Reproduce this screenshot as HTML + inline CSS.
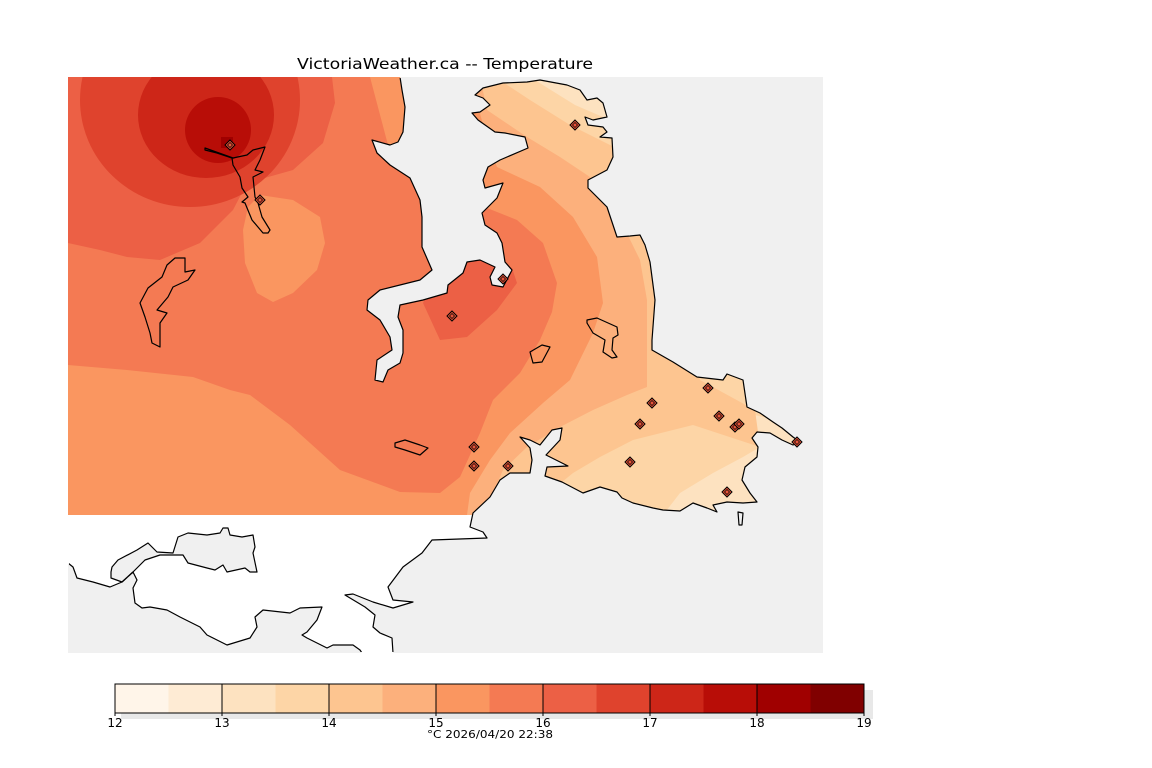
<!DOCTYPE html>
<html><head><meta charset="utf-8"><style>
html,body{margin:0;padding:0;background:#fff;}
svg{display:block;}
text{font-family:"DejaVu Sans","Liberation Sans",sans-serif;}
</style></head><body>
<svg width="1152" height="768" viewBox="0 0 1152 768" xmlns="http://www.w3.org/2000/svg">
<defs>
<clipPath id="land"><path id="lp" d="M68,77 L400,77 402,90 405,107 403,132 398,142 390,145 372,140 377,153 390,165 410,178 420,200 422,217 422,247 432,270 420,280 380,290 368,300 367,310 380,320 390,337 392,350 377,360 375,380 383,382 388,370 400,363 403,353 403,330 398,317 400,305 423,300 447,293 448,285 463,273 467,262 480,260 495,267 490,277 492,285 503,287 512,270 505,262 502,243 497,233 485,225 482,213 487,208 497,198 503,183 485,188 483,180 488,167 500,160 528,148 525,137 505,133 495,132 478,120 472,113 480,112 490,105 483,98 475,95 483,88 503,83 527,82 540,80 567,85 580,90 587,100 597,98 603,103 607,117 593,120 585,117 588,125 603,127 607,132 600,137 612,138 613,157 607,170 588,180 588,188 607,207 617,237 630,236 640,235 645,245 650,262 655,300 652,340 652,350 673,362 697,377 723,380 727,374 743,380 747,407 760,413 773,422 782,428 793,437 800,442 793,445 782,440 770,433 757,432 752,438 758,447 757,457 745,467 742,480 750,493 757,502 743,503 727,502 713,505 717,512 707,508 693,503 680,511 663,510 653,508 633,503 622,498 617,492 600,487 583,493 562,482 545,476 547,467 568,466 546,455 560,440 562,428 552,430 540,445 530,440 520,437 530,448 532,460 530,473 510,473 500,480 490,497 473,513 470,527 483,532 487,538 432,540 422,553 403,567 388,587 393,600 413,602 393,608 373,602 353,594 345,595 365,607 375,615 373,627 380,633 392,638 393,653 362,653 360,650 353,645 333,645 327,648 317,643 307,638 302,635 307,632 317,620 322,607 300,608 290,613 263,610 255,617 257,627 250,638 227,645 207,635 200,627 180,617 167,610 150,607 142,608 135,603 133,588 137,580 133,572 122,582 110,587 93,582 77,578 73,567 68,563 Z"/></clipPath>
<clipPath id="top"><rect x="68" y="77" width="755" height="438"/></clipPath>
<clipPath id="inner"><rect x="69" y="78" width="753" height="574"/></clipPath>
<g id="dm"><path d="M0,-5 L5,0 0,5 -5,0Z" fill="#e8553a" stroke="#000" stroke-width="1"/><path d="M0,-2.5 L2.5,0 0,2.5 -2.5,0Z" fill="none" stroke="#000" stroke-width="0.7"/></g>
</defs>
<text x="297" y="69" font-size="15" textLength="296" lengthAdjust="spacingAndGlyphs" fill="#000">VictoriaWeather.ca -- Temperature</text>
<rect x="68" y="77" width="755" height="576" fill="#f0f0f0"/>
<g clip-path="url(#land)">
<rect x="68" y="77" width="755" height="576" fill="#fff"/>
<g clip-path="url(#top)">
<rect x="68" y="77" width="755" height="438" fill="#fdd5a6"/>
<polygon fill="#fde2c0" points="530,77 575,105 610,120 640,110 640,77"/>
<polygon fill="#fde2c0" points="663,515 680,493 713,473 743,457 760,447 780,447 800,445 823,445 823,515"/>
<polygon fill="#fde2c0" points="755,415 775,420 800,440 790,447 760,447"/>
<polygon fill="#fdc590" points="68,77 495,77 530,100 570,125 610,145 640,160 660,200 680,300 700,380 755,410 760,447 693,425 633,440 600,457 573,473 540,500 525,515 68,515"/>
<polygon fill="#fcb07c" points="68,77 480,77 487,110 527,137 560,157 590,177 617,213 640,260 647,300 647,387 627,395 593,410 560,427 527,447 503,470 487,507 485,515 68,515"/>
<polygon fill="#fa9660" points="68,77 470,77 490,150 497,167 540,187 573,217 597,257 603,303 593,333 570,380 543,403 510,433 490,460 470,493 467,515 68,515"/>
<polygon fill="#f47a53" points="68,77 470,77 480,190 487,208 517,220 543,243 557,283 552,312 540,340 520,373 493,400 480,433 460,477 440,493 400,492 340,470 290,425 250,395 230,390 193,377 127,370 68,365"/>
<polygon fill="#fa9660" points="260,195 293,200 320,217 325,243 317,270 293,293 273,302 257,293 245,263 243,230 248,207"/>
<polygon fill="#fa9660" points="370,77 408,77 402,145 388,145"/>
<polygon fill="#ec6045" points="68,77 332,77 335,103 323,143 293,170 247,183 233,210 200,243 160,260 127,257 100,250 68,243"/>
<ellipse cx="190" cy="100" rx="110" ry="107" fill="#df432d"/>
<ellipse cx="206" cy="115" rx="68" ry="63" fill="#cd2618"/>
<circle cx="218" cy="130" r="33" fill="#b80d07"/>
<rect x="221" y="137" width="12" height="11" fill="#a00000"/>
<polygon fill="#ec6045" points="423,303 440,340 467,337 497,310 517,283 512,268 480,260 465,263 448,280 428,292"/>
</g>
</g>
<polygon fill="#f0f0f0" points="111,578 111,572 112,567 118,560 137,550 148,543 157,552 173,553 178,537 188,533 207,535 220,533 223,528 228,528 230,535 242,537 253,535 255,547 253,553 257,572 250,572 245,568 227,572 223,565 215,570 207,568 188,563 183,555 160,555 145,560 133,572 122,582"/>
<g clip-path="url(#inner)" fill="none" stroke="#000" stroke-width="1.2" stroke-linejoin="round">
<use href="#lp"/>
<polygon points="111,578 111,572 112,567 118,560 137,550 148,543 157,552 173,553 178,537 188,533 207,535 220,533 223,528 228,528 230,535 242,537 253,535 255,547 253,553 257,572 250,572 245,568 227,572 223,565 215,570 207,568 188,563 183,555 160,555 145,560 133,572 122,582"/>
<polygon points="205,148 233,158 247,155 253,150 265,147 260,160 255,170 263,172 253,177 255,197 258,203 262,217 270,230 268,233 263,233 252,220 245,203 242,202 248,197 242,188 240,177 233,165 232,158 217,153 205,150"/>
<polygon points="175,258 185,258 185,272 195,270 188,280 173,287 168,297 157,310 167,313 160,323 160,347 152,343 150,333 145,317 140,303 148,288 162,277 167,265"/>
<polygon points="395,443 405,440 420,445 428,448 420,455 405,450 395,447"/>
<polygon points="530,352 542,345 550,347 542,362 533,363"/>
<polygon points="587,320 597,318 617,327 618,335 613,338 612,350 617,357 612,358 603,352 605,340 593,333 587,323"/>
<polygon points="738,512 743,513 742,525 739,525"/>
</g>
<g>
<use href="#dm" x="230" y="145"/><use href="#dm" x="260" y="200"/><use href="#dm" x="575" y="125"/>
<use href="#dm" x="503" y="279"/><use href="#dm" x="452" y="316"/><use href="#dm" x="474" y="447"/>
<use href="#dm" x="474" y="466"/><use href="#dm" x="508" y="466"/><use href="#dm" x="652" y="403"/>
<use href="#dm" x="640" y="424"/><use href="#dm" x="708" y="388"/><use href="#dm" x="719" y="416"/>
<use href="#dm" x="735" y="427"/><use href="#dm" x="739" y="424"/><use href="#dm" x="727" y="492"/>
<use href="#dm" x="797" y="442"/><use href="#dm" x="630" y="462"/>
</g>
<rect x="121" y="690" width="752" height="29" fill="#e8e8e8"/>
<g>
<rect x="115" y="684" width="53.5" height="29" fill="#fff5e9"/>
<rect x="168.5" y="684" width="53.5" height="29" fill="#feebd4"/>
<rect x="222" y="684" width="53.5" height="29" fill="#fde2c0"/>
<rect x="275.5" y="684" width="53.5" height="29" fill="#fdd5a6"/>
<rect x="329" y="684" width="53.5" height="29" fill="#fdc590"/>
<rect x="382.5" y="684" width="53.5" height="29" fill="#fcb07c"/>
<rect x="436" y="684" width="53.5" height="29" fill="#fa9660"/>
<rect x="489.5" y="684" width="53.5" height="29" fill="#f47a53"/>
<rect x="543" y="684" width="53.5" height="29" fill="#ec6045"/>
<rect x="596.5" y="684" width="53.5" height="29" fill="#df432d"/>
<rect x="650" y="684" width="53.5" height="29" fill="#cd2618"/>
<rect x="703.5" y="684" width="53.5" height="29" fill="#b80d07"/>
<rect x="757" y="684" width="53.5" height="29" fill="#a00000"/>
<rect x="810.5" y="684" width="53.5" height="29" fill="#800000"/>
</g>
<rect x="115" y="684" width="749" height="29" fill="none" stroke="#000" stroke-width="1"/>
<g stroke="#000" stroke-width="1">
<line x1="222" y1="684" x2="222" y2="716"/><line x1="329" y1="684" x2="329" y2="716"/>
<line x1="436" y1="684" x2="436" y2="716"/><line x1="543" y1="684" x2="543" y2="716"/>
<line x1="650" y1="684" x2="650" y2="716"/><line x1="757" y1="684" x2="757" y2="716"/>
<line x1="115" y1="713" x2="115" y2="716"/><line x1="864" y1="713" x2="864" y2="716"/>
</g>
<g font-size="12" text-anchor="middle" fill="#000">
<text x="115" y="727">12</text><text x="222" y="727">13</text><text x="329" y="727">14</text>
<text x="436" y="727">15</text><text x="543" y="727">16</text><text x="650" y="727">17</text>
<text x="757" y="727">18</text><text x="864" y="727">19</text>
</g>
<text x="427" y="738" font-size="11" textLength="126" lengthAdjust="spacingAndGlyphs" fill="#000">°C  2026/04/20 22:38</text>
</svg>
</body></html>
